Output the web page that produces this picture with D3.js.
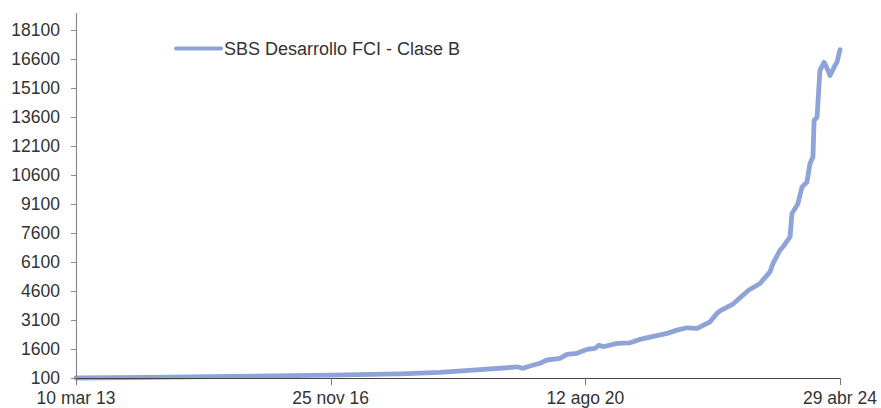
<!DOCTYPE html>
<html>
<head>
<meta charset="utf-8">
<script src="https://cdn.jsdelivr.net/npm/d3@7"></script>
<style>
    body { margin: 0; background: #fff; }
    svg { display: block; }
    .labs { font-family: "Liberation Sans", Arial, sans-serif; font-size: 17.5px; fill: #333; }
    .legend { font-family: "Liberation Sans", Arial, sans-serif; font-size: 18px; fill: #333; }
</style>
</head>
<body>
<div id="wrapper"></div>
<script>
// Data: dates and fund value
var dates = ["2013-03-10", "2014-04-08", "2015-06-08", "2016-11-25", "2017-11-29", "2018-06-30",
    "2018-12-23", "2019-06-22", "2019-08-14", "2019-09-15", "2019-10-22", "2019-12-15",
    "2020-01-21", "2020-03-30", "2020-05-06", "2020-06-29", "2020-08-21", "2020-10-02",
    "2020-10-24", "2020-11-14", "2021-01-28", "2021-04-07", "2021-05-30", "2021-10-21",
    "2021-12-13", "2022-02-04", "2022-03-30", "2022-06-07", "2022-07-14", "2022-07-30",
    "2022-10-07", "2022-11-29", "2022-12-31", "2023-02-28", "2023-04-22", "2023-05-08",
    "2023-06-14", "2023-06-30", "2023-08-07", "2023-08-17", "2023-09-18", "2023-10-10",
    "2023-11-05", "2023-11-21", "2023-12-07", "2023-12-13", "2023-12-29", "2024-01-13",
    "2024-02-04", "2024-02-14", "2024-03-07", "2024-04-02", "2024-04-13", "2024-04-29"];
var values = [100, 130, 180, 245, 315, 395,
    510, 630, 680, 600, 720, 860,
    1030, 1115, 1320, 1375, 1580, 1630,
    1800, 1715, 1890, 1920, 2095, 2405,
    2575, 2695, 2665, 3005, 3440, 3570,
    3920, 4380, 4650, 4985, 5585, 6010,
    6700, 6870, 7390, 8595, 9110, 9970,
    10225, 11175, 11515, 13410, 13580, 15985,
    16415, 16245, 15730, 16245, 16415, 17070];
var seriesName = "SBS Desarrollo FCI - Clase B";
var yTicks = [100, 1600, 3100, 4600, 6100, 7600, 9100, 10600, 12100, 13600, 15100, 16600, 18100];
var xTicks = ["2013-03-10", "2016-11-25", "2020-08-12", "2024-04-29"];
var xTickLabels = ["10 mar 13", "25 nov 16", "12 ago 20", "29 abr 24"];

var width = 881, height = 408;
var lineColor = "#8EA4D8";
var parse = d3.timeParse("%Y-%m-%d");

var dataset = dates.map(function(d, i) {
    return { date: parse(d), value: values[i] };
});

var x = d3.scaleTime()
    .domain([parse(dates[0]), parse(dates[dates.length - 1])])
    .range([76, 840]);

var y = d3.scaleLinear()
    .domain([100, 18100])
    .range([378, 29.7]);

var svg = d3.select("#wrapper")
    .append("svg")
    .attr("width", width)
    .attr("height", height);

// Function: y axis (line, ticks, labels)
var addYAxis = function() {
    svg.append("line")
        .attr("x1", 76.5).attr("x2", 76.5)
        .attr("y1", 13).attr("y2", 378.5)
        .attr("stroke", "#8a8a8a")
        .attr("stroke-width", 1.2);

    svg.selectAll("ytick")
        .data(yTicks)
        .enter()
        .append("line")
        .attr("x1", 71).attr("x2", 76.5)
        .attr("y1", function(d) { return Math.round(y(d)) + 0.5; })
        .attr("y2", function(d) { return Math.round(y(d)) + 0.5; })
        .attr("stroke", "#8a8a8a");

    svg.selectAll("ylab")
        .data(yTicks)
        .enter()
        .append("text")
        .text(function(d) { return d; })
        .attr("x", 60)
        .attr("y", function(d) { return y(d) + 6; })
        .style("text-anchor", "end")
        .classed("labs", true);
};

// Function: x axis (line, ticks, labels)
var addXAxis = function() {
    svg.append("line")
        .attr("x1", 76).attr("x2", 840.5)
        .attr("y1", 378.5).attr("y2", 378.5)
        .attr("stroke", "#444")
        .attr("stroke-width", 1.2);

    svg.selectAll("xtick")
        .data(xTicks)
        .enter()
        .append("line")
        .attr("x1", function(d) { return Math.round(x(parse(d))) + 0.5; })
        .attr("x2", function(d) { return Math.round(x(parse(d))) + 0.5; })
        .attr("y1", 378.5).attr("y2", 385)
        .attr("stroke", "#777");

    svg.selectAll("xlab")
        .data(xTicks)
        .enter()
        .append("text")
        .text(function(d, i) { return xTickLabels[i]; })
        .attr("x", function(d) { return x(parse(d)); })
        .attr("y", 404)
        .style("text-anchor", "middle")
        .classed("labs", true);
};

// Function: series line
var addLine = function() {
    var line = d3.line()
        .x(function(d) { return x(d.date); })
        .y(function(d) { return y(d.value); });

    svg.append("path")
        .datum(dataset)
        .attr("d", line)
        .attr("fill", "none")
        .attr("stroke", lineColor)
        .attr("stroke-width", 4.8)
        .attr("stroke-linejoin", "round")
        .attr("stroke-linecap", "round");
};

// Function: legend
var addLegend = function() {
    svg.append("line")
        .attr("x1", 176).attr("x2", 221)
        .attr("y1", 48.5).attr("y2", 48.5)
        .attr("stroke", lineColor)
        .attr("stroke-width", 4)
        .attr("stroke-linecap", "round");

    svg.append("text")
        .text(seriesName)
        .attr("x", 224)
        .attr("y", 55)
        .classed("legend", true);
};

addLine();
addYAxis();
addXAxis();
addLegend();
</script>
</body>
</html>
